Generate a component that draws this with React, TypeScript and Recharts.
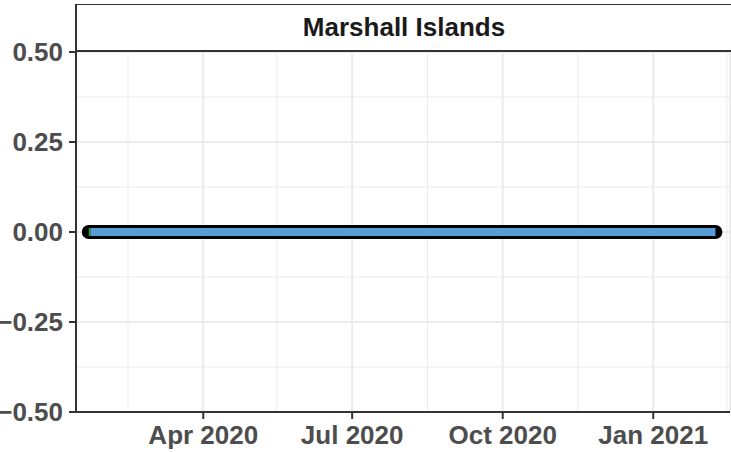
import React from 'react';
import { LineChart, Line, XAxis, YAxis, CartesianGrid, ReferenceLine } from 'recharts';

// days of the series (first point is the short green stretch)
const dates = ['2020-01-22', '2020-01-23', '2021-02-08'];
const outlineValues = [0, 0, 0];
const greenValues = [0, 0, null];
const blueValues = [null, 0, 0];

const xTicks = ['2020-04-01', '2020-07-01', '2020-10-01', '2021-01-01'];
const xMinorTicks = ['2020-02-15', '2020-05-16', '2020-08-16', '2020-11-16', '2021-02-15'];
const yTicks = [-0.5, -0.25, 0, 0.25, 0.5];
const yMinorTicks = [-0.375, -0.125, 0.125, 0.375];

const MONTHS = ['Jan', 'Feb', 'Mar', 'Apr', 'May', 'Jun', 'Jul', 'Aug', 'Sep', 'Oct', 'Nov', 'Dec'];

const toTs = (d: string) => Date.parse(d + 'T00:00:00Z');
const xMin = Date.UTC(2020, 0, 14, 5);
const xMax = Date.UTC(2021, 1, 16, 22);

const data = dates.map((d, i) => ({
    date: toTs(d),
    outline: outlineValues[i],
    green: greenValues[i],
    blue: blueValues[i],
}));

const FONT = '"Liberation Sans", Arial, Helvetica, sans-serif';
const AXIS_COL = '#333333';
const GRID_COL = '#ebebeb';

const fmtDate = (v: number) => {
    const d = new Date(v);
    return `${MONTHS[d.getUTCMonth()]} ${d.getUTCFullYear()}`;
};

const fmtY = (v: number) => (v < 0 ? '\u2212' + Math.abs(v).toFixed(2) : v.toFixed(2));

export default function App() {
    return (
        <div
            style={{
                position: 'absolute',
                left: 0,
                top: 0,
                width: 731,
                height: 452,
                overflow: 'hidden',
                background: '#fff',
                fontFamily: FONT,
            }}
        >
            <LineChart width={731} height={452} data={data} margin={{ top: 52, right: 1, bottom: 0, left: 0 }}>
                <CartesianGrid stroke={GRID_COL} strokeWidth={2} />
                {xMinorTicks.map((t) => (
                    <ReferenceLine key={t} x={toTs(t)} stroke={GRID_COL} strokeWidth={1} />
                ))}
                {yMinorTicks.map((t) => (
                    <ReferenceLine key={t} y={t} stroke={GRID_COL} strokeWidth={1} />
                ))}
                <XAxis
                    dataKey="date"
                    type="number"
                    domain={[xMin, xMax]}
                    allowDataOverflow
                    ticks={xTicks.map(toTs)}
                    tickFormatter={fmtDate}
                    height={40}
                    tickSize={7}
                    tickMargin={7}
                    axisLine={{ stroke: AXIS_COL, strokeWidth: 2 }}
                    tickLine={{ stroke: AXIS_COL, strokeWidth: 2 }}
                    tick={{ fill: '#4d4d4d', fontSize: 26, fontWeight: 'bold', fontFamily: FONT }}
                />
                <YAxis
                    type="number"
                    domain={[-0.5, 0.5]}
                    ticks={yTicks}
                    tickFormatter={fmtY}
                    width={76}
                    tickSize={7}
                    tickMargin={6}
                    axisLine={{ stroke: AXIS_COL, strokeWidth: 2 }}
                    tickLine={{ stroke: AXIS_COL, strokeWidth: 2 }}
                    tick={{ fill: '#4d4d4d', fontSize: 26, fontWeight: 'bold', fontFamily: FONT }}
                />
                <Line dataKey="outline" stroke="#000000" strokeWidth={14} strokeLinecap="round" dot={false} activeDot={false} isAnimationActive={false} />
                <Line dataKey="blue" stroke="#569dd8" strokeWidth={8} strokeLinecap="butt" dot={false} activeDot={false} isAnimationActive={false} />
                <Line dataKey="green" stroke="#3b9a3b" strokeWidth={8} strokeLinecap="butt" dot={false} activeDot={false} isAnimationActive={false} />
            </LineChart>
            <div
                style={{
                    position: 'absolute',
                    left: 75,
                    top: 4,
                    width: 656,
                    height: 48,
                    borderTop: '1.5px solid #333',
                    borderLeft: '2px solid #333',
                    borderBottom: '2px solid #333',
                    boxSizing: 'border-box',
                    display: 'flex',
                    alignItems: 'center',
                    justifyContent: 'center',
                    fontWeight: 'bold',
                    fontSize: 26,
                    color: '#1a1a1a',
                }}
            >
                Marshall Islands
            </div>
        </div>
    );
}
